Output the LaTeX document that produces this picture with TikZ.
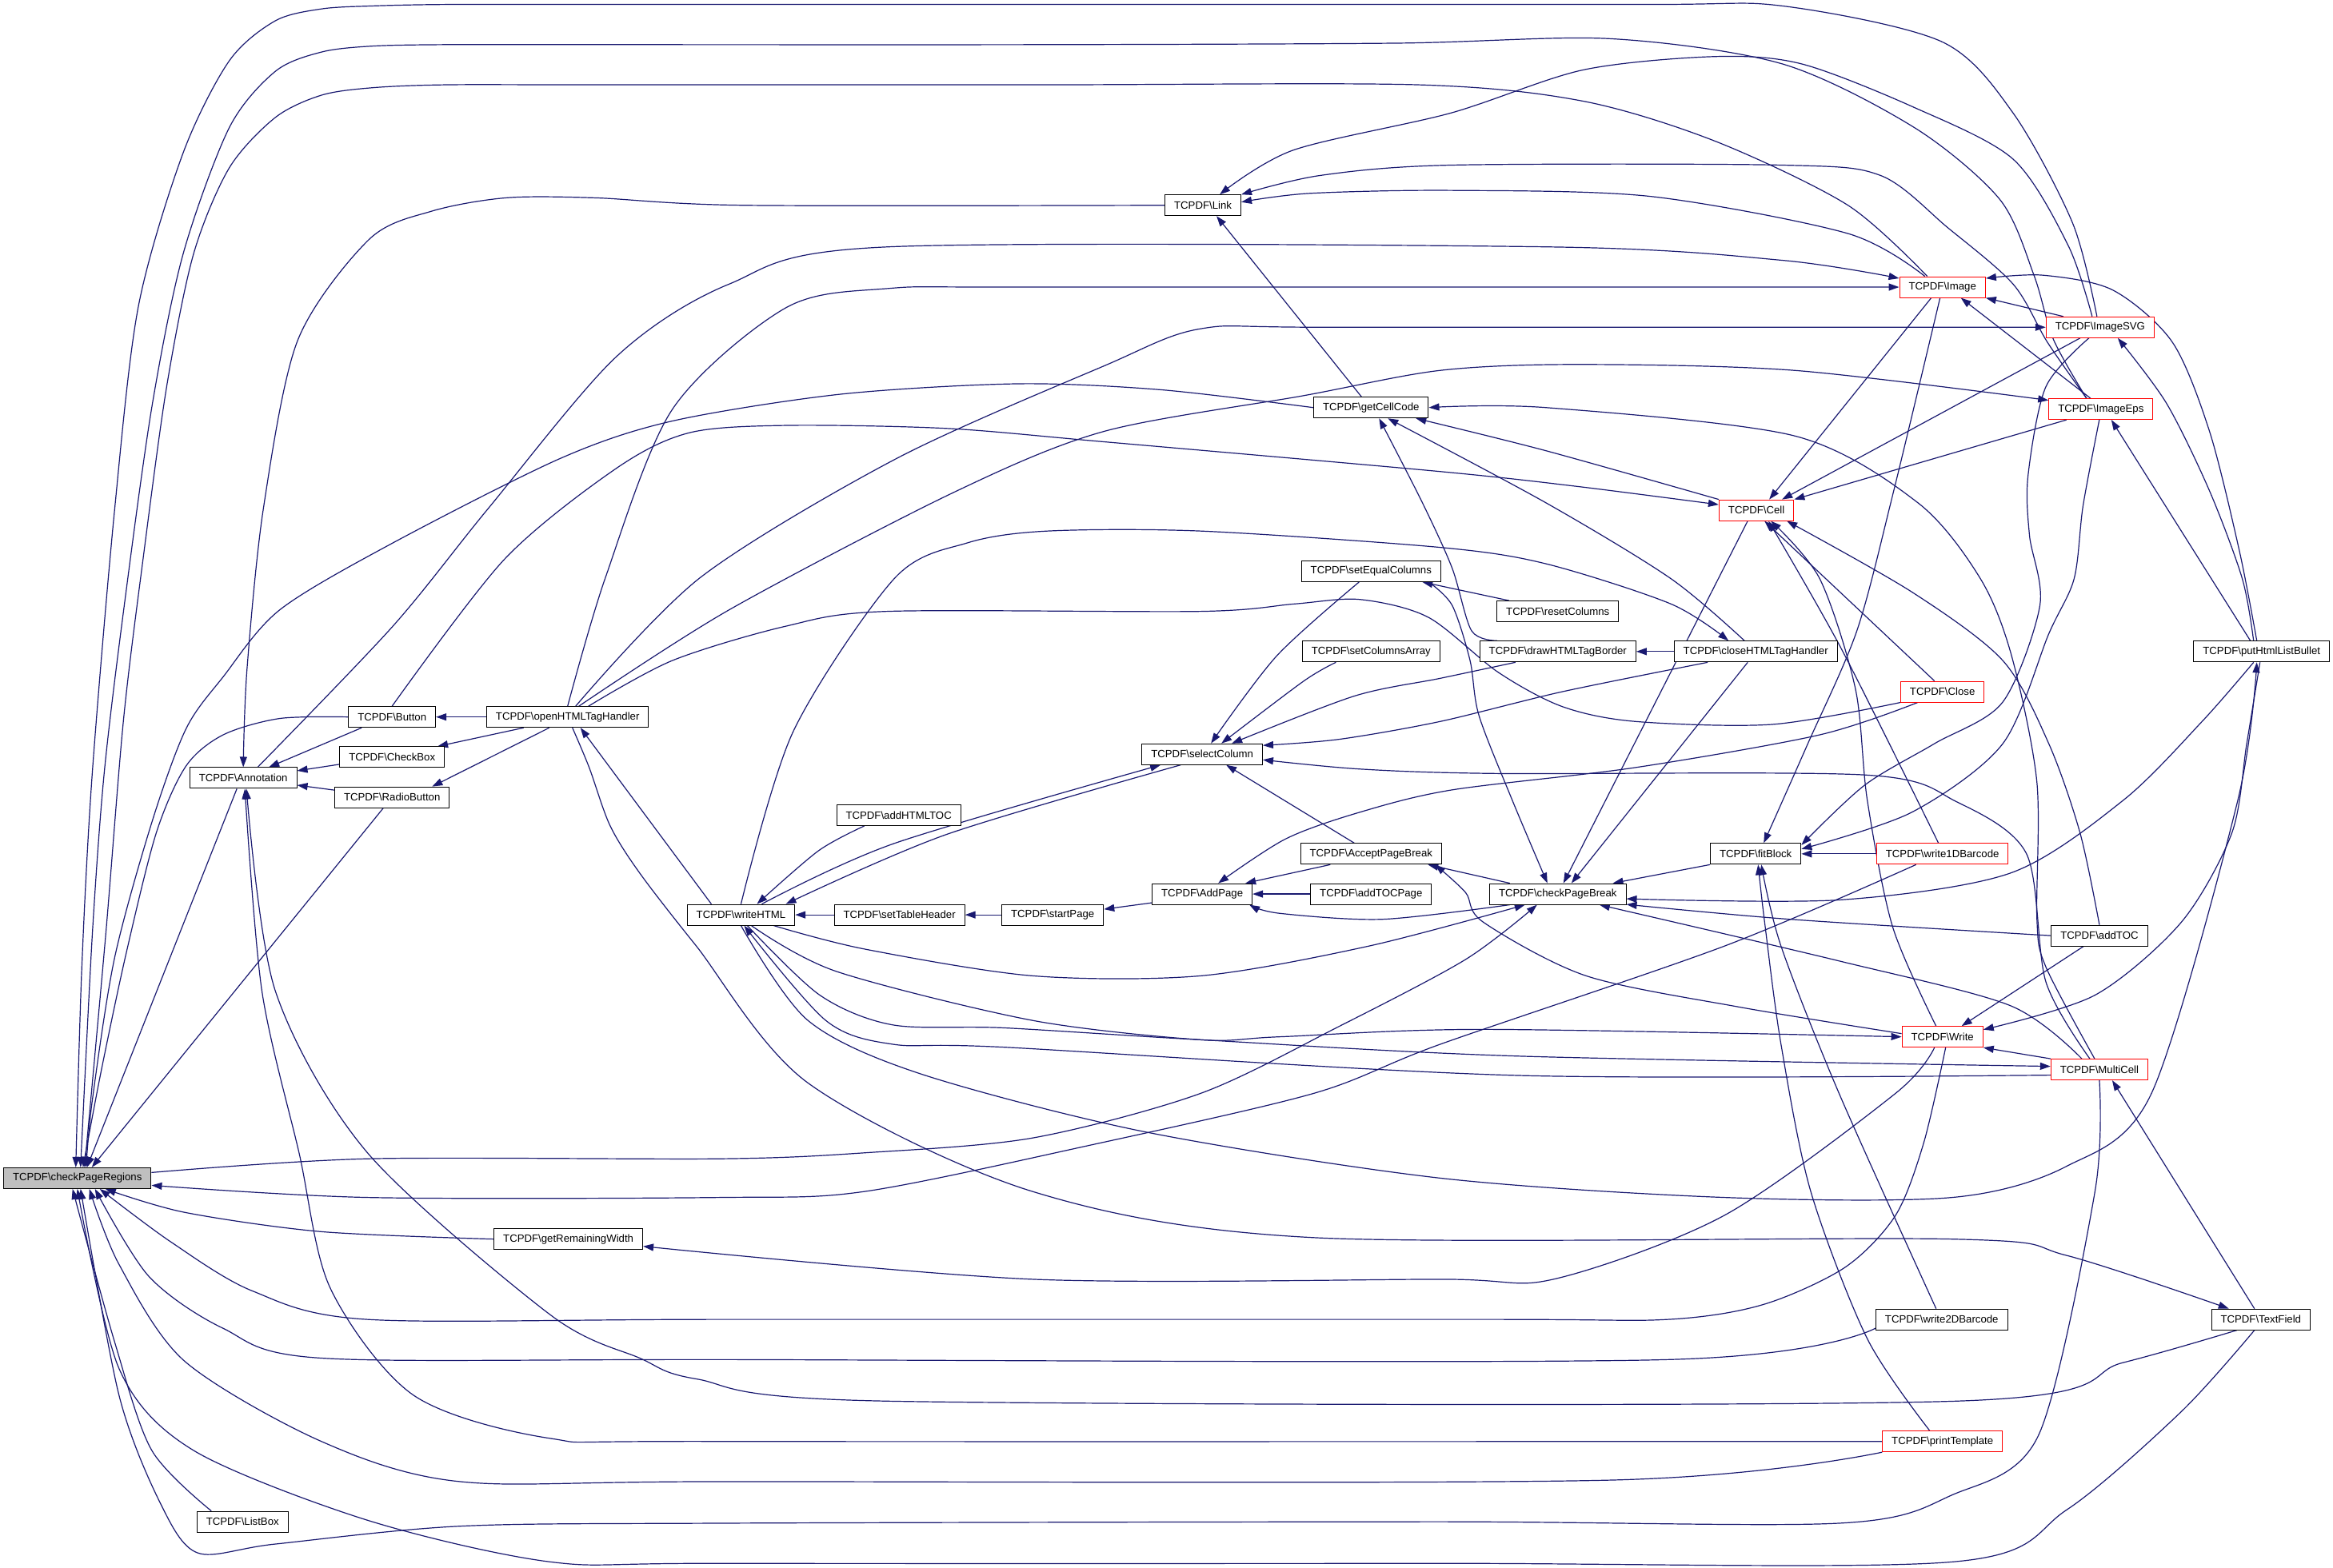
\documentclass[tikz,border=0pt]{standalone}
\usepackage{fontspec}
\setmainfont{Liberation Sans}
\usetikzlibrary{arrows.meta,backgrounds}

\definecolor{dxblue}{HTML}{191970}
\definecolor{dxred}{HTML}{FF0000}
\newcommand{\tcpdf}[1]{TCPDF\textbackslash #1}

\tikzset{
  fn/.style={draw=black, fill=white, line width=1pt, minimum height=26pt,
    inner xsep=11.5pt, inner ysep=0pt, font=\fontsize{13.2}{14}\selectfont},
  fnred/.style={fn, draw=dxred},
  root/.style={fn, fill=gray!50},
  call/.style={draw=dxblue, line width=1.2pt, -{Triangle[length=13pt,width=9pt]}},
  plain/.style={draw=dxblue, line width=1.2pt}
}

\begin{document}
\begin{tikzpicture}[x=1.86pt, y=-1.86pt]
\useasboundingbox (0,0) rectangle (1568,1054);

% functions
\node[root]  (cpr)        at (52,792)     {\tcpdf{checkPageRegions}};
\node[fn]    (annot)      at (163.5,523)  {\tcpdf{Annotation}};
\node[fn]    (listbox)    at (163,1023)   {\tcpdf{ListBox}};
\node[fn]    (button)     at (263.5,482)  {\tcpdf{Button}};
\node[fn]    (checkbox)   at (263.5,509)  {\tcpdf{CheckBox}};
\node[fn]    (radio)      at (263.5,536)  {\tcpdf{RadioButton}};
\node[fn]    (openhtml)   at (381.5,482)  {\tcpdf{openHTMLTagHandler}};
\node[fn]    (remwidth)   at (382,833)    {\tcpdf{getRemainingWidth}};
\node[fn]    (writehtml)  at (498,615)    {\tcpdf{writeHTML}};
\node[fn]    (addhtmltoc) at (604,548)    {\tcpdf{addHTMLTOC}};
\node[fn]    (tableheader) at (604.5,615) {\tcpdf{setTableHeader}};
\node[fn]    (startpage)  at (707.5,615)  {\tcpdf{startPage}};
\node[fn]    (link)       at (808.5,138)  {\tcpdf{Link}};
\node[fn]    (cellcode)   at (921.5,274)  {\tcpdf{getCellCode}};
\node[fn]    (equalcols)  at (921.5,384)  {\tcpdf{setEqualColumns}};
\node[fn]    (colsarray)  at (921.5,438)  {\tcpdf{setColumnsArray}};
\node[fn]    (selcol)     at (808,507)    {\tcpdf{selectColumn}};
\node[fn]    (addpage)    at (808,601)    {\tcpdf{AddPage}};
\node[fn]    (acceptpb)   at (921.5,574)  {\tcpdf{AcceptPageBreak}};
\node[fn]    (addtocpage) at (921.5,601)  {\tcpdf{addTOCPage}};
\node[fn]    (resetcols)  at (1047,411)   {\tcpdf{resetColumns}};
\node[fn]    (tagborder)  at (1047,438)   {\tcpdf{drawHTMLTagBorder}};
\node[fn]    (checkpb)    at (1047,601)   {\tcpdf{checkPageBreak}};
\node[fn]    (closetag)   at (1180,438)   {\tcpdf{closeHTMLTagHandler}};
\node[fnred] (cell)       at (1180.5,343) {\tcpdf{Cell}};
\node[fn]    (fitblock)   at (1180,574)   {\tcpdf{fitBlock}};
\node[fnred] (image)      at (1305.5,193) {\tcpdf{Image}};
\node[fnred] (close)      at (1305.5,465) {\tcpdf{Close}};
\node[fnred] (bar1d)      at (1305.5,574) {\tcpdf{write1DBarcode}};
\node[fnred] (write)      at (1305.5,697) {\tcpdf{Write}};
\node[fn]    (bar2d)      at (1305,887)   {\tcpdf{write2DBarcode}};
\node[fnred] (printtpl)   at (1305.5,969) {\tcpdf{printTemplate}};
\node[fnred] (svg)        at (1411.5,220) {\tcpdf{ImageSVG}};
\node[fnred] (eps)        at (1412,275)   {\tcpdf{ImageEps}};
\node[fn]    (addtoc)     at (1411,629)   {\tcpdf{addTOC}};
\node[fnred] (multicell)  at (1411,719)   {\tcpdf{MultiCell}};
\node[fn]    (bullet)     at (1520,438)   {\tcpdf{putHtmlListBullet}};
\node[fn]    (textfield)  at (1519.5,887) {\tcpdf{TextField}};

\begin{scope}[on background layer]
% callers of checkPageRegions
\draw[call] plot[smooth] coordinates {([xshift=-4pt]svg.north) (1393,150) (1353,76) (1305,28) (1198,4) (1100,3) (700,3) (400,3) (300,3) (250,4) (216,6) (185,14) (154,41) (123,103) (93,206) (77,343) (62,520) (55,650) ([xshift=-2pt]cpr.north)};
\draw[call] plot[smooth] coordinates {([xshift=-18pt]eps.north) (1380,228) (1367,185) (1344,134) (1287,86) (1198,43) (1082,26) (940,29) (700,30) (400,30) (300,30) (250,31) (216,35) (185,48) (154,86) (123,171) (102,274) (83,411) (70,520) (62,629) ([xshift=4pt]cpr.north)};
\draw[call] plot[smooth] coordinates {([xshift=-19pt]image.north) (1242,138) (1153,95) (1064,68) (953,57) (700,57) (400,57) (300,57) (250,59) (216,64) (185,79) (154,113) (130,171) (112,260) (96,377) (83,484) (71,629) ([xshift=9pt]cpr.north)};
\draw[call] ([xshift=-8pt]annot.south) -- ([xshift=12pt]cpr.north);
\draw[call] ([xshift=-11pt]radio.south) -- ([xshift=18pt]cpr.north);
\draw[call] plot[smooth] coordinates {(button.west) (188,483) (150,494) (125,515) (105,560) (85,640) (68,720) ([xshift=7pt]cpr.north)};
\draw[call] plot[smooth] coordinates {(cellcode.west) (780,262) (684,258) (565,265) (452,283) (377,308) (264,365) (188,410) (150,455) (125,490) (102,553) (77,644) (62,740) ([xshift=11pt]cpr.north)};
\draw[call] plot[smooth] coordinates {([xshift=-33pt]bar1d.south) (1159,636) (968,702) (883,735) (732,770) (581,801) (484,805) (247,805) ([yshift=-9pt]cpr.east)};
\draw[call] plot[smooth] coordinates {(remwidth.west) (216,828) (124,815) ([xshift=35pt]cpr.south)};
\draw[call] plot[smooth] coordinates {([xshift=4pt]write.south) (1293,768) (1274,817) (1240,852) (1185,877) (1121,887) (1000,887) (484,887) (247,887) (170,868) (115,835) ([xshift=28pt]cpr.south)};
\draw[call] plot[smooth] coordinates {([yshift=-11pt]bar2d.west) (1121,914) (484,914) (216,913) (150,893) (100,858) ([xshift=22pt]cpr.south)};
\draw[call] plot[smooth] coordinates {(printtpl.south west) (1083,995) (484,996) (309,996) (216,969) (124,915) (80,850) ([xshift=15pt]cpr.south)};
\draw[call] plot[smooth] coordinates {(multicell.south) (1408,801) (1370,965) (1312,1005) (1236,1024) (968,1023) (484,1024) (309,1026) (185,1038) (133,1044) (108,1011) (80,938) ([xshift=4pt]cpr.south)};
\draw[call] plot[smooth] coordinates {([xshift=-8pt]textfield.south) (1466,949) (1389,1015) (1312,1050) (968,1051) (484,1051) (370,1050) (247,1022) (130,975) (80,920) (cpr.south)};
\draw[call] plot[smooth] coordinates {([xshift=-39pt]listbox.north) (102,975) (77,902) ([xshift=-6pt]cpr.south)};
\draw[call] plot[smooth] coordinates {([yshift=7pt]cpr.east) (247,779) (484,779) (581,775) (694,765) (807,735) (900,690) (985,645) ([xshift=-26pt]checkpb.south)};

% Annotation
\draw[call] plot[smooth] coordinates {(link.west) (500,138) (400,133) (340,133) (290,142) (248,161) (200,229) (177,342) (166,450) (annot.north)};
\draw[call] ([xshift=-38pt]button.south) -- ([xshift=32pt]annot.north);
\draw[call] ([yshift=-9pt]checkbox.west) -- ([yshift=9pt]annot.east);
\draw[call] ([yshift=9pt]radio.west) -- ([yshift=-9pt]annot.east);
\draw[call] plot[smooth] coordinates {([xshift=-30pt]textfield.south) (1427,916) (1312,942) (601,942) (468,927) (430,913) (370,884) (247,775) (185,666) ([xshift=4pt]annot.south)};
\draw[call] plot[smooth] coordinates {(printtpl.west) (484,969) (370,967) (278,938) (222,866) (201,775) (176,666) ([xshift=2pt]annot.south)};

% openHTMLTagHandler
\draw[call] (openhtml.west) -- (button.east);
\draw[call] ([xshift=-55pt]openhtml.south) -- ([xshift=-9pt]checkbox.north east);
\draw[call] ([xshift=-23pt]openhtml.south) -- ([xshift=-22pt]radio.north east);
\draw[call] ([xshift=-37pt]writehtml.north) -- ([xshift=16pt]openhtml.south);
\draw[call] plot[smooth] coordinates {(openhtml.north) (407,388) (452,275) (528,207) (596,194) (700,193) (image.west)};
\draw[call] plot[smooth] coordinates {([xshift=10pt]openhtml.north) (471,388) (603,308) (742,246) (807,221) (900,220) (svg.west)};
\draw[call] plot[smooth] coordinates {([xshift=14pt]openhtml.north) (490,410) (641,331) (742,290) (876,266) (968,249) (1060,245) (1206,249) ([yshift=11pt]eps.west)};
\draw[plain] plot[smooth] coordinates {([xshift=26pt]openhtml.north) (452,444) (528,421) (596,411) (807,411) (870,406) (914,403) (960,415) (1007,452) (1050,475) (1099,485) (1191,487) (close.south west)};
\draw[call] plot[smooth] coordinates {([xshift=6pt]openhtml.south) (396,516) (410,555) (430,587) (468,636) (543,728) (694,801) (883,832) (1312,833) (1389,844) ([xshift=-40pt]textfield.north)};
\draw[call] plot[smooth] coordinates {([xshift=18pt]annot.north) (264,421) (328,342) (414,240) (490,191) (596,166) (1042,166) (1198,175) ([yshift=11pt]image.west)};
\draw[call] plot[smooth] coordinates {(button.north) (339,376) (414,315) (463,291) (528,286) (636,288) (742,297) (968,317) (1060,327) ([yshift=7pt]cell.west)};

% writeHTML
\draw[call] (tableheader.west) -- (writehtml.east);
\draw[call] (startpage.west) -- (tableheader.east);
\draw[call] ([yshift=-11pt]addpage.west) -- ([yshift=7pt]startpage.east);
\draw[call] plot[smooth] coordinates {([xshift=-43pt]addhtmltoc.south) (550,572) ([xshift=20pt]writehtml.north)};
\draw[call] plot[smooth] coordinates {([xshift=-27pt]selcol.south) (636,561) ([xshift=56pt]writehtml.north)};
\draw[call] plot[smooth] coordinates {([xshift=26pt]writehtml.north) (601,567) ([xshift=-52pt]selcol.south)};
\draw[call] plot[smooth] coordinates {(writehtml.north) (533,492) (601,389) (650,365) (704,357) (807,357) (968,368) (1039,379) (1123,406) ([xshift=-34pt]closetag.north)};
\draw[call] (closetag.west) -- (tagborder.east);
\draw[call] plot[smooth] coordinates {([xshift=41pt]writehtml.south) (581,638) (694,656) (807,656) (920,636) ([xshift=-41pt]checkpb.south)};
\draw[call] plot[smooth] coordinates {([xshift=13pt]writehtml.south) (562,653) (694,686) (807,699) (860,697) (997,692) (write.west)};
\draw[call] plot[smooth] coordinates {([xshift=8pt]writehtml.south) (551,669) (600,689) (675,691) (807,699) (1021,710) ([yshift=4pt]multicell.west)};
\draw[call] plot[smooth] coordinates {([yshift=-7pt]multicell.west) (1021,723) (675,704) (600,702) (555,686) ([xshift=4pt]writehtml.south)};
\draw[call] plot[smooth] coordinates {(writehtml.south) (543,686) (619,722) (770,761) (968,792) (1159,805) (1312,805) (1389,784) (1446,735) (1504,538) ([xshift=-6pt]bullet.south)};

% selectColumn
\draw[call] plot[smooth] coordinates {([xshift=-15pt]equalcols.south) (858,441) ([xshift=11pt]selcol.north)};
\draw[call] plot[smooth] coordinates {([xshift=-44pt]colsarray.south) (876,458) ([xshift=24pt]selcol.north)};
\draw[call] plot[smooth] coordinates {([xshift=-53pt]tagborder.south) (968,456) (910,468) ([xshift=37pt]selcol.north)};
\draw[call] plot[smooth] coordinates {([xshift=-60pt]closetag.south) (1050,465) (968,485) (900,497) ([yshift=11pt]selcol.east)};
\draw[call] plot[smooth] coordinates {([xshift=-12pt]multicell.north) (1375,660) (1362,574) (1315,539) (1254,521) (1006,520) (914,517) ([yshift=-7pt]selcol.east)};
\draw[call] ([xshift=-21pt]acceptpb.north) -- ([xshift=30pt]selcol.south);
\draw[call] ([xshift=-61pt]resetcols.north) -- ([xshift=64pt]equalcols.south);

% AddPage, AcceptPageBreak
\draw[call] ([xshift=-51pt]acceptpb.south) -- ([xshift=54pt]addpage.north);
\draw[call] (addtocpage.west) -- (addpage.east);
\draw[call] plot[smooth] coordinates {([xshift=-60pt]checkpb.south) (929,618) (860,614) ([xshift=-4pt]addpage.south east)};
\draw[call] plot[smooth] coordinates {([xshift=-31pt]close.south) (1223,494) (1099,516) (976,531) (914,546) (864,564) ([xshift=20pt]addpage.north)};
\draw[call] ([xshift=-60pt]checkpb.north) -- ([xshift=71pt]acceptpb.south);
\draw[call] plot[smooth] coordinates {([yshift=4pt]write.west) (1169,677) (1066,656) (997,620) (985,600) ([xshift=80pt]acceptpb.south)};

% checkPageBreak
\draw[call] plot[smooth] coordinates {([xshift=72pt]equalcols.south) (976,407) (988,444) (994,481) (1016,537) ([xshift=-13pt]checkpb.north)};
\draw[call] ([xshift=-11pt]cell.south) -- ([xshift=7pt]checkpb.north);
\draw[call] ([xshift=-10pt]closetag.south) -- ([xshift=17pt]checkpb.north);
\draw[call] (fitblock.south west) -- ([xshift=-17pt]checkpb.north east);
\draw[call] plot[smooth] coordinates {([xshift=-10pt]bullet.south) (1480,485) (1427,538) (1351,587) (1236,605) ([yshift=-6pt]checkpb.east)};
\draw[call] plot[smooth] coordinates {(addtoc.west) (1203,618) ([yshift=-13pt]checkpb.east)};
\draw[call] plot[smooth] coordinates {([xshift=-22pt]multicell.north) (1351,676) (1236,646) ([xshift=52pt]checkpb.south)};

% fitBlock
\draw[call] plot[smooth] coordinates {([xshift=-3pt]image.south) (1272,333) (1248,424) (1215,500) ([xshift=10pt]fitblock.north)};
\draw[call] plot[smooth] coordinates {([xshift=-14pt]svg.south) (1375,260) (1363,320) (1364,360) (1371,407) (1346,472) (1300,500) (1253,528) ([yshift=11pt]fitblock.east)};
\draw[call] plot[smooth] coordinates {([xshift=-2pt]eps.south) (1400,340) (1394,389) (1377,426) (1346,500) (1285,546) ([yshift=6pt]fitblock.east)};
\draw[call] (bar1d.west) -- (fitblock.east);
\draw[call] plot[smooth] coordinates {([xshift=-7pt]bar2d.north) (1236,735) (1197,636) ([xshift=7pt]fitblock.south)};
\draw[call] plot[smooth] coordinates {([xshift=-16pt]printtpl.north) (1255,900) (1217,801) (1197,702) (1186,620) ([xshift=3pt]fitblock.south)};

% Cell
\draw[call] plot[smooth] coordinates {(cell.north west) (1039,303) ([xshift=56pt]cellcode.south)};
\draw[call] ([xshift=-14pt]image.south) -- ([xshift=16pt]cell.north);
\draw[call] ([xshift=-25pt]svg.south) -- ([xshift=32pt]cell.north);
\draw[call] ([xshift=-43pt]eps.south) -- (cell.north east);
\draw[call] ([xshift=-10pt]close.north) -- ([xshift=10pt]cell.south);
\draw[call] plot[smooth] coordinates {([xshift=-5pt]bar1d.north) (1238,437) ([xshift=15pt]cell.south)};
\draw[call] plot[smooth] coordinates {([xshift=-8pt]write.north) (1272,623) (1255,538) (1247,463) (1223,389) ([xshift=18pt]cell.south)};
\draw[call] plot[smooth] coordinates {(addtoc.north) (1398,560) (1377,500) (1346,444) (1285,398) ([xshift=38pt]cell.south)};

% getCellCode, Link
\draw[call] plot[smooth] coordinates {([xshift=-76pt]tagborder.north) (989,424) (976,382) (956,338) ([xshift=10pt]cellcode.south)};
\draw[call] plot[smooth] coordinates {([xshift=-14pt]closetag.north) (1123,389) (1039,338) ([xshift=21pt]cellcode.south)};
\draw[call] plot[smooth] coordinates {([xshift=-6pt]multicell.north) (1375,650) (1369,618) (1369,526) (1352,441) (1331,389) (1289,338) (1206,293) (1039,274) (cellcode.east)};
\draw[call] ([xshift=-12pt]cellcode.north) -- ([xshift=17pt]link.south);
\draw[call] plot[smooth] coordinates {([xshift=-10pt]svg.north) (1390,165) (1353,107) (1286,72) (1211,43) (1153,38) (1064,47) (975,76) (869,101) ([xshift=21pt]link.north)};
\draw[call] plot[smooth] coordinates {([xshift=-18pt]eps.north) (1376,230) (1353,191) (1309,153) (1264,118) (1198,111) (975,111) (887,118) (link.north east)};
\draw[call] plot[smooth] coordinates {([xshift=-22pt]image.north) (1242,157) (1109,132) (975,128) (880,130) ([yshift=4pt]link.east)};

% Image, ImageSVG, ImageEps
\draw[call] ([xshift=-46pt]svg.north) -- (image.south east);
\draw[call] ([xshift=-13pt]eps.north) -- ([xshift=23pt]image.south);
\draw[call] plot[smooth] coordinates {([xshift=-6pt]bullet.north) (1505,370) (1485,290) (1460,230) (1420,195) (1373,185) ([yshift=11pt]image.east)};
\draw[call] plot[smooth] coordinates {([xshift=-10pt]bullet.north) (1507,389) (1485,330) (1456,271) ([xshift=22pt]svg.south)};
\draw[call] ([xshift=-14pt]bullet.north) -- ([xshift=13pt]eps.south);

% Write, MultiCell
\draw[call] (multicell.north west) -- (write.south east);
\draw[call] ([xshift=-20pt]addtoc.south) -- ([xshift=24pt]write.north);
\draw[call] plot[smooth] coordinates {([xshift=-2pt]bullet.south) (1510,500) (1500,560) (1466,620) (1408,669) ([yshift=9pt]write.east)};
\draw[call] plot[smooth] coordinates {([xshift=-10pt]write.south) (1274,735) (1159,817) (1044,860) (968,860) (694,860) ([yshift=-9pt]remwidth.east)};
\draw[call] ([xshift=-8pt]textfield.north) -- ([xshift=16pt]multicell.south);
\end{scope}
\end{tikzpicture}
\end{document}
